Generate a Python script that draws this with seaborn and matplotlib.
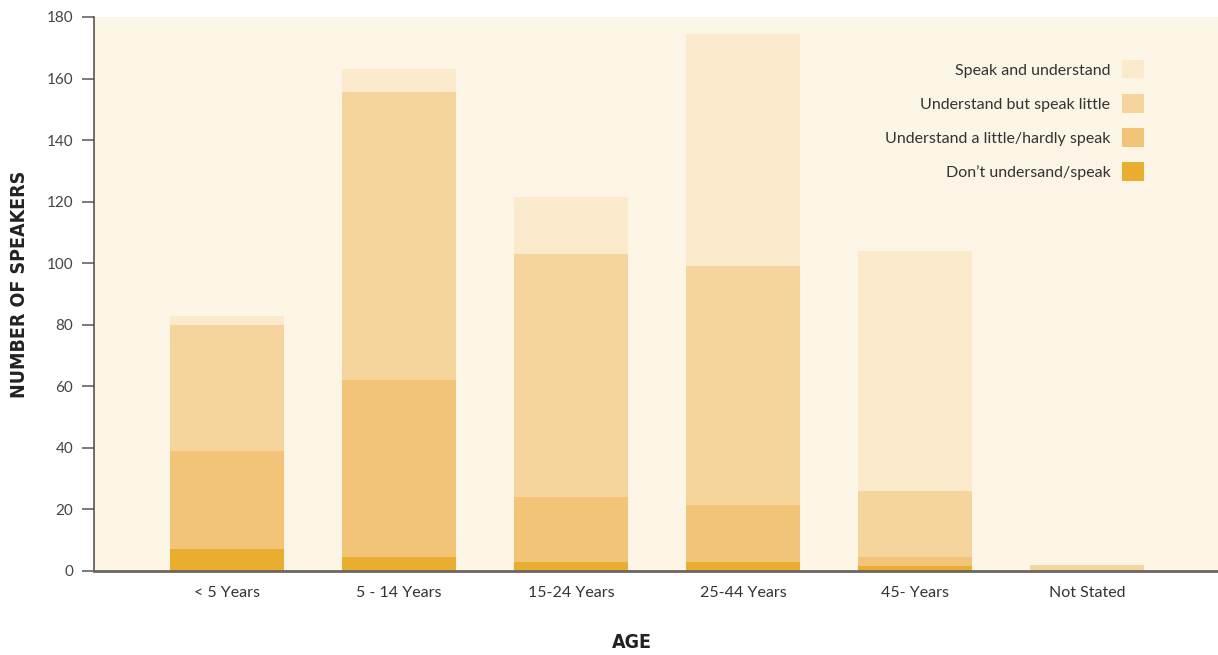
import numpy as np
import pandas as pd
import matplotlib
matplotlib.use("Agg")
import matplotlib.pyplot as plt
import seaborn as sns
from matplotlib.patches import Patch

# Age groups and speaker counts per proficiency level
categories = ["< 5 Years", "5 - 14 Years", "15-24 Years", "25-44 Years", "45- Years", "Not Stated"]
dont_understand = [7, 4.5, 3, 3, 1.5, 0]
understand_hardly_speak = [32, 57.5, 21, 18.5, 3, 0]
understand_speak_little = [41, 93.5, 79, 77.5, 21.5, 2]
speak_and_understand = [3, 7.5, 18.5, 75.5, 78, 0]

series_labels = [
    "Don\u2019t undersand/speak",
    "Understand a little/hardly speak",
    "Understand but speak little",
    "Speak and understand",
]
series_colors = ["#E9AE2F", "#F1C477", "#F6D59D", "#FAE9CA"]
y_ticks = [0, 20, 40, 60, 80, 100, 120, 140, 160, 180]

sns.set_theme(style="white")
plt.rcParams["font.family"] = ["Lato", "DejaVu Sans"]

fig = plt.figure(figsize=(12.18, 6.55), dpi=100)
ax = fig.add_axes([94 / 1218, 84 / 655, 1 - 94 / 1218, (571 - 17) / 655])
ax.set_facecolor("#FCF4E5")

stack = np.vstack([dont_understand, understand_hardly_speak,
                   understand_speak_little, speak_and_understand])
cumulative = np.cumsum(stack, axis=0)

# Draw from the tallest cumulative layer down so each band sits on the one below
for i in range(len(series_labels) - 1, -1, -1):
    df = pd.DataFrame({"age": categories, "value": cumulative[i]})
    sns.barplot(data=df, x="age", y="value", color=series_colors[i],
                saturation=1, width=0.663, ax=ax, linewidth=0)

ax.set_xlim(-0.773, 5.762)
ax.set_ylim(0, 180)
ax.set_yticks(y_ticks)
ax.set_yticklabels([str(t) for t in y_ticks], fontsize=11, color="#444444")
ax.tick_params(axis="y", which="major", length=9, width=1.1, color="#555555",
               pad=6, left=True, direction="out")
ax.tick_params(axis="x", length=0, pad=11, labelsize=11.5, labelcolor="#333333")

for side in ["top", "right"]:
    ax.spines[side].set_visible(False)
ax.spines["left"].set_color("#4d4545")
ax.spines["left"].set_linewidth(1.1)
ax.spines["bottom"].set_color("#6b6661")
ax.spines["bottom"].set_linewidth(2)

ax.set_xlabel("")
ax.set_ylabel("")
title_font = dict(fontsize=14, fontweight="bold", fontstretch="condensed",
                  family=["DejaVu Sans"], color="#222222")
fig.text(20 / 1218, 1 - 284 / 655, "NUMBER OF SPEAKERS", rotation=90,
         ha="center", va="center", **title_font)
fig.text(632 / 1218, 1 - 643 / 655, "AGE", ha="center", va="center",
         **title_font)

handles = [Patch(facecolor=c, edgecolor="none") for c in series_colors]
leg = ax.legend(handles[::-1], series_labels[::-1],
                loc="upper right", bbox_to_anchor=(1144 / 1218, 1 - 60 / 655),
                bbox_transform=fig.transFigure, frameon=False,
                markerfirst=False, fontsize=11.5, handlelength=1.4,
                handleheight=1.4, labelspacing=0.98, handletextpad=0.7,
                borderpad=0, borderaxespad=0)
for t in leg.get_texts():
    t.set_color("#333333")

fig.savefig("out.png", dpi=100, facecolor="white")
